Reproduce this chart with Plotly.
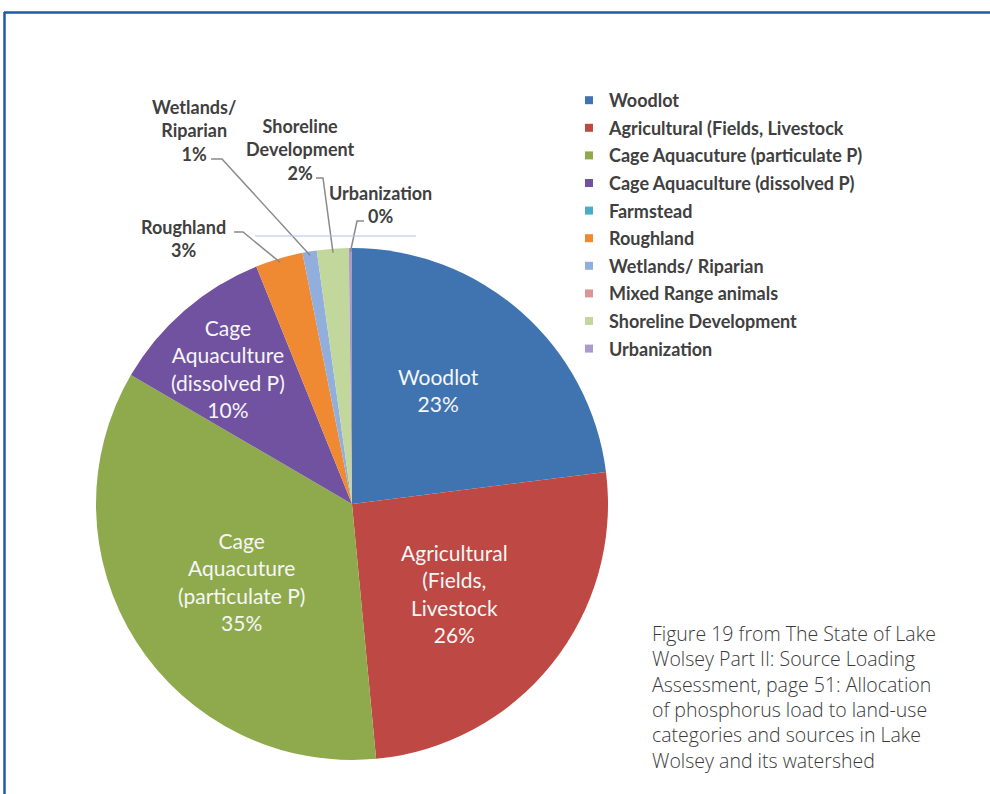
import math
import plotly.graph_objects as go

# ---------------- data ----------------
categories = [
    "Woodlot",
    "Agricultural (Fields, Livestock",
    "Cage Aquacuture (particulate P)",
    "Cage Aquaculture (dissolved P)",
    "Farmstead",
    "Roughland",
    "Wetlands/ Riparian",
    "Mixed Range animals",
    "Shoreline Development",
    "Urbanization",
]
# slice sizes as drawn in the picture (share of the full circle, %)
values = [23.0, 25.5, 34.9, 10.5, 0.0, 3.0, 0.9, 0.0, 2.0, 0.2]
# percentage labels printed on the chart
pct_text = ["23%", "26%", "35%", "10%", "", "3%", "1%", "", "2%", "0%"]
slice_names = [
    "Woodlot",
    "Agricultural<br>(Fields,<br>Livestock",
    "Cage<br>Aquacuture<br>(particulate P)",
    "Cage<br>Aquaculture<br>(dissolved P)",
    "",
    "Roughland",
    "Wetlands/<br>Riparian",
    "",
    "Shoreline<br>Development",
    "Urbanization",
]
colors = ["#4074b1", "#be4843", "#8faa4c", "#7152a1", "#4bacc6",
          "#ef8a33", "#92aedc", "#d99694", "#c1d79c", "#a99bcc"]

caption = ("Figure 19 from The State of Lake<br>Wolsey Part II: Source Loading<br>"
           "Assessment, page 51: Allocation<br>of phosphorus load to land-use<br>"
           "categories and sources in Lake<br>Wolsey and its watershed")

# ---------------- layout helpers ----------------
W, H = 990, 794
def X(px):
    return px / W
def Y(py):
    return 1 - py / H

CX, CY, R = 352, 504, 256  # pie centre / radius in pixels

fig = go.Figure()
fig.add_trace(go.Pie(
    labels=categories, values=values, sort=False, direction="clockwise",
    rotation=0, marker=dict(colors=colors, line=dict(width=0)),
    textinfo="none", showlegend=False,
    domain=dict(x=[X(CX - R), X(CX + R)], y=[Y(CY + R), Y(CY - R)]),
))

# legend entries
for i, (name, col) in enumerate(zip(categories, colors)):
    fig.add_trace(go.Scatter(
        x=[None], y=[None], mode="markers", name=name, legendgroup=f"g{i}",
        marker=dict(symbol="square", size=8, color=col),
    ))

annotations = []
shapes = []

# inside labels (pixel positions of label centres)
inside_pos = {0: (438, 390), 1: (454, 593), 2: (241, 581), 3: (228, 368)}
for i, (px, py) in inside_pos.items():
    annotations.append(dict(
        x=X(px), y=Y(py), xref="paper", yref="paper", showarrow=False,
        xanchor="center", yanchor="middle",
        text=f"{slice_names[i]}<br>{pct_text[i]}", align="center",
        font=dict(family="Lato, Open Sans, sans-serif", size=21, color="#f6f6f6"),
    ))

# outside labels with elbow leader lines
outside = {
    5: dict(pos=(183, 238), elbow=[(234, 232), (243, 232)]),
    6: dict(pos=(194, 131), elbow=[(211, 159), (222, 159)]),
    8: dict(pos=(300, 149), elbow=[(316, 178), (323, 178)]),
    9: dict(pos=(380, 204), elbow=[(364, 221), (357, 221)]),
}
total = sum(values)
cum = [sum(values[:k]) for k in range(len(values))]
for i, d in outside.items():
    px, py = d["pos"]
    annotations.append(dict(
        x=X(px), y=Y(py), xref="paper", yref="paper", showarrow=False,
        xanchor="center", yanchor="middle",
        text=f"{slice_names[i]}<br>{pct_text[i]}", align="center",
        font=dict(family="Lato, Open Sans, sans-serif", size=18, color="#404040",
                  weight="bold"),
    ))
    mid = (cum[i] + values[i] / 2) / total * 2 * math.pi
    ex = CX + (R - 4) * math.sin(mid)
    ey = CY - (R - 4) * math.cos(mid)
    pts = d["elbow"] + [(ex, ey)]
    path = "M " + " L ".join(f"{X(a):.5f},{Y(b):.5f}" for a, b in pts)
    shapes.append(dict(type="path", xref="paper", yref="paper", path=path,
                       line=dict(color="#8a8a8a", width=1.5)))

# caption
annotations.append(dict(
    x=X(650), y=Y(697), xref="paper", yref="paper", xanchor="left", yanchor="middle",
    showarrow=False, align="left", text=caption,
    font=dict(family="Open Sans, sans-serif", size=19.5, color="#3a3a3a", weight=300),
))

# frame lines
shapes.append(dict(type="line", xref="paper", yref="paper", x0=X(4), x1=1,
                   y0=Y(12.5), y1=Y(12.5), line=dict(color="#1d5aa6", width=2.5)))
shapes.append(dict(type="line", xref="paper", yref="paper", x0=X(4.5), x1=X(4.5),
                   y0=Y(12), y1=0, line=dict(color="#1d5aa6", width=2.5)))
# faint stray line in the scan
shapes.append(dict(type="line", xref="paper", yref="paper", x0=X(255), x1=X(416),
                   y0=Y(236), y1=Y(236), line=dict(color="#a9c4e8", width=1)))

fig.update_layout(
    width=W, height=H, margin=dict(l=0, r=0, t=0, b=0),
    paper_bgcolor="white", plot_bgcolor="white",
    xaxis=dict(visible=False), yaxis=dict(visible=False),
    showlegend=True,
    legend=dict(
        x=X(569), y=Y(82), xanchor="left", yanchor="top",
        traceorder="grouped", tracegroupgap=1.2,
        font=dict(family="Lato, Open Sans, sans-serif", size=18, color="#404040",
                  weight="bold"),
        bgcolor="rgba(0,0,0,0)",
    ),
    annotations=annotations, shapes=shapes,
)

fig.write_html("out.html")
